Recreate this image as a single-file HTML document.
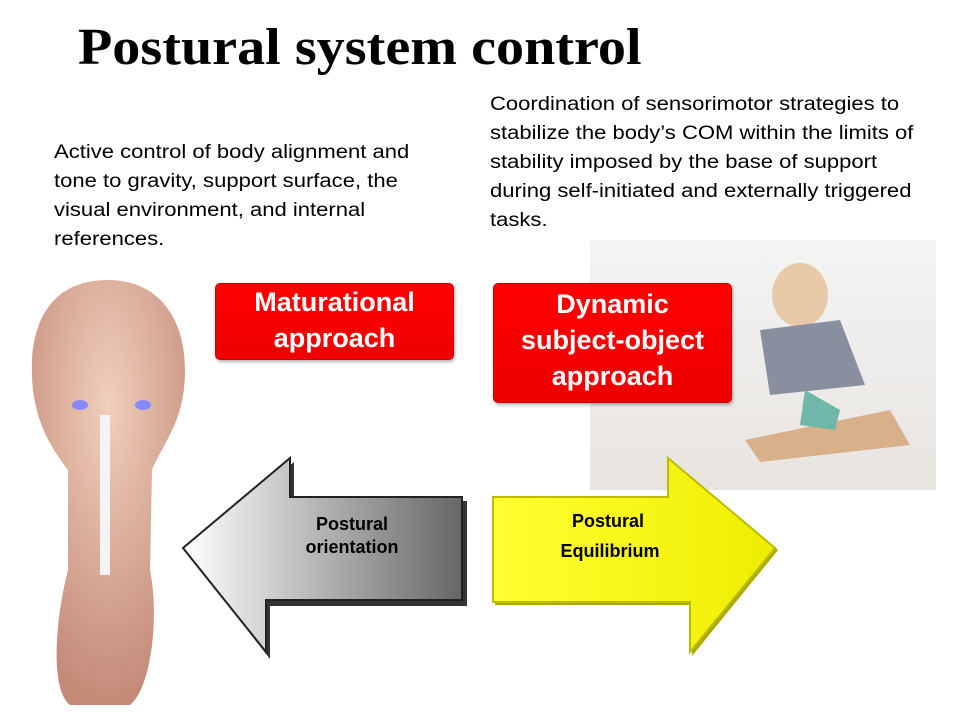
<!DOCTYPE html>
<html><head><style>
body{margin:0;width:960px;height:720px;background:#fff;position:relative;overflow:hidden;font-family:"Liberation Sans",sans-serif}
.t{position:absolute;color:#000;font-size:19px;line-height:29px;white-space:nowrap;transform:scaleX(1.16);transform-origin:left top}
.red{position:absolute;background:linear-gradient(#f00,#e00);border:1px solid #c00;border-radius:5px;color:#fff;font-weight:bold;font-size:27px;line-height:36px;text-align:center;box-shadow:1px 2px 3px rgba(0,0,0,.3)}
</style></head><body>
<div style="position:absolute;left:78px;top:18px;font-family:'Liberation Serif',serif;font-weight:bold;font-size:52px;transform:scaleX(1.08);transform-origin:left">Postural system control</div>
<div class="t" style="left:54px;top:138px">Active control of body alignment and<br>tone to gravity, support surface, the<br>visual environment, and internal<br>references.</div>
<div class="t" style="left:490px;top:90px">Coordination of sensorimotor strategies to<br>stabilize the body’s COM within the limits of<br>stability imposed by the base of support<br>during self-initiated and externally triggered<br>tasks.</div>
<svg width="960" height="720" style="position:absolute;left:0;top:0">
<defs>
<linearGradient id="g" x1="0" x2="1"><stop offset="0" stop-color="#fff"/><stop offset="1" stop-color="#666"/></linearGradient>
<linearGradient id="y" x1="0" x2="1"><stop offset="0" stop-color="#ff3"/><stop offset="1" stop-color="#ee0"/></linearGradient>
<radialGradient id="sk" cx=".5" cy=".3" r=".7"><stop offset="0" stop-color="#f0d0bc"/><stop offset="1" stop-color="#c48a78"/></radialGradient>
<linearGradient id="ph" x1="0" y1="0" x2="0" y2="1"><stop offset="0" stop-color="#f4f4f4"/><stop offset="1" stop-color="#e8e4e0"/></linearGradient>
</defs>
<rect x="590" y="240" width="346" height="250" fill="url(#ph)"/>
<ellipse cx="800" cy="295" rx="28" ry="32" fill="#e8c9a8"/>
<path d="M760 330 L840 320 L865 385 L770 395Z" fill="#8a8fa0"/>
<path d="M745 440 L890 410 L910 445 L760 462Z" fill="#d8b08a"/>
<path d="M805 390 L840 410 L835 430 L800 425Z" fill="#6fb7a8"/>
<path d="M108 280 C160 280 185 320 185 370 C185 420 165 440 152 470 L150 570 C160 620 150 690 130 705 L70 705 C50 690 55 620 68 570 L68 470 C45 440 30 410 32 360 C35 310 60 280 108 280Z" fill="url(#sk)"/>
<rect x="100" y="415" width="10" height="160" fill="#f4f4f4"/>
<ellipse cx="80" cy="405" rx="8" ry="5" fill="#88f"/><ellipse cx="143" cy="405" rx="8" ry="5" fill="#88f"/>
<path d="M185 548 L292 458 L292 497 L465 497 L465 602 L268 602 L268 655Z" fill="#333" transform="translate(2,4)"/>
<path d="M183 548 L290 458 L290 497 L462 497 L462 600 L266 600 L266 652Z" fill="url(#g)" stroke="#222" stroke-width="2"/>
<path d="M495 500 L670 500 L670 460 L778 550 L692 656 L692 605 L495 605Z" fill="#aa0"/>
<path d="M493 497 L668 497 L668 458 L775 548 L690 652 L690 602 L493 602Z" fill="url(#y)" stroke="#bb0" stroke-width="2"/>
<g font-family="Liberation Sans,sans-serif" font-weight="bold" font-size="18" text-anchor="middle">
<text x="352" y="530">Postural</text><text x="352" y="553">orientation</text>
<text x="608" y="527">Postural</text><text x="610" y="557">Equilibrium</text></g>
</svg>
<div class="red" style="left:215px;top:283px;width:237px;height:75px">Maturational<br>approach</div>
<div class="red" style="left:493px;top:283px;width:237px;height:116px;padding-top:2px">Dynamic<br>subject-object<br>approach</div>
</body></html>
